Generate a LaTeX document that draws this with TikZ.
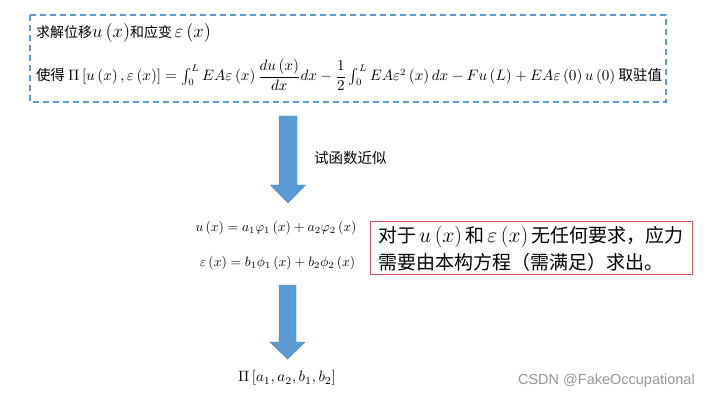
\documentclass[tikz,border=0pt]{standalone}
\usepackage{amsmath}
\usepackage{fontspec}
\newfontfamily\cjk{Noto Sans CJK SC}
\newfontfamily\wmfont{Liberation Sans}
\usetikzlibrary{calc}
\definecolor{pptblue}{RGB}{91,155,213}
\definecolor{pptred}{RGB}{214,90,90}
\definecolor{wmgray}{RGB}{150,150,150}
\newcommand{\mth}[2]{\scalebox{#1}{$#2$}}
\tikzset{
  txt/.style={inner sep=0pt, outer sep=0pt, font=\cjk\fontsize{14}{16}\selectfont},
  mathtxt/.style={inner sep=0pt, outer sep=0pt},
  bigtxt/.style={inner sep=0pt, outer sep=0pt, align=left, font=\cjk\fontsize{19}{27}\selectfont},
  dashbox/.style={draw=pptblue, line width=1.3pt, dash pattern=on 6pt off 4pt},
  redbox/.style={draw=pptred, line width=1pt},
  blockarrow/.style={fill=pptblue, draw=pptblue!85!black, line width=0.4pt},
}
\begin{document}
\begin{tikzpicture}[x=1pt,y=-1pt]
\useasboundingbox (0,0) rectangle (710,401);
% dashed frame
\draw[dashbox] (30,15) rectangle (666,102);
\node[txt, anchor=west] (t1) at (36,33) {求解位移\mth{1.3}{u\left(x\right)}和应变\,\mth{1.3}{\varepsilon\left(x\right)}};
\node[txt, anchor=west] (t2) at (36,75) {\resizebox{626pt}{!}{\fontsize{10.5}{12}\selectfont 使得 $\Pi\left[u\left(x\right),\varepsilon\left(x\right)\right]=\int_0^L EA\varepsilon\left(x\right)\dfrac{du\left(x\right)}{dx}dx-\dfrac{1}{2}\int_0^L EA\varepsilon^2\left(x\right)dx-Fu\left(L\right)+EA\varepsilon\left(0\right)u\left(0\right)$ 取驻值}};
% arrow 1
\coordinate (a1s) at (288,116);
\coordinate (a1e) at (288,203);
\fill[blockarrow] ($(a1s)+(-9,0)$) -- ($(a1s)+(9,0)$) -- ($(a1e)+(9,-18)$) -- ($(a1e)+(17.5,-18)$) -- (a1e) -- ($(a1e)+(-17.5,-18)$) -- ($(a1e)+(-9,-18)$) -- cycle;
\node[txt, anchor=west, font=\cjk\fontsize{14.5}{16}\selectfont] (lab) at (314,158) {试函数近似};
% trial functions
\node[mathtxt] (eq1) at (276,228) {\mth{1.36}{u\left(x\right)=a_1\varphi_1\left(x\right)+a_2\varphi_2\left(x\right)}};
\node[mathtxt] (eq2) at (277.5,263) {\mth{1.36}{\varepsilon\left(x\right)=b_1\phi_1\left(x\right)+b_2\phi_2\left(x\right)}};
% red note
\draw[redbox] (370,221) rectangle (692,274);
\node[bigtxt, anchor=north west] (note) at (378,226) {对于\,\mth{1.25}{u\left(x\right)}\,和\,\mth{1.25}{\varepsilon\left(x\right)}\,无任何要求，应力\\需要由本构方程（需满足）求出。};
% arrow 2
\coordinate (a2s) at (287.5,285);
\coordinate (a2e) at (287.5,359);
\fill[blockarrow] ($(a2s)+(-8.5,0)$) -- ($(a2s)+(8.5,0)$) -- ($(a2e)+(8.5,-17)$) -- ($(a2e)+(17.5,-17)$) -- (a2e) -- ($(a2e)+(-17.5,-17)$) -- ($(a2e)+(-8.5,-17)$) -- cycle;
\node[mathtxt] (res) at (287,378) {\mth{1.5}{\Pi\left[a_1,a_2,b_1,b_2\right]}};
% watermark
\node[inner sep=0pt, anchor=east, text=wmgray, font=\wmfont\fontsize{14.5}{16}\selectfont] (wm) at (695,381) {CSDN @FakeOccupational};
\end{tikzpicture}
\end{document}
